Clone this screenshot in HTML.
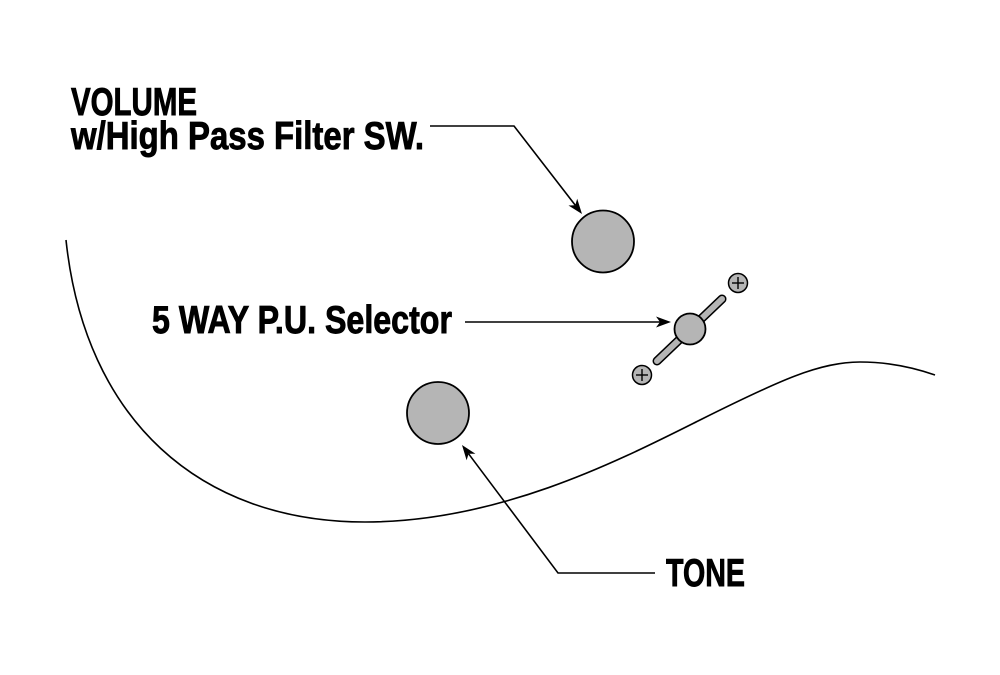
<!DOCTYPE html>
<html>
<head>
<meta charset="utf-8">
<style>
  html, body { margin: 0; padding: 0; background: #ffffff; }
  svg { display: block; }
  .lbl { font-family: "Liberation Sans Narrow", "Liberation Sans", sans-serif; font-weight: bold; font-size: 39px; fill: #000; stroke: #000; stroke-width: 0.9px; }
</style>
</head>
<body>
<svg width="1000" height="675" viewBox="0 0 1000 675" xmlns="http://www.w3.org/2000/svg">
  <rect x="0" y="0" width="1000" height="675" fill="#ffffff"/>

  <!-- body outline curve -->
  <path d="M66,240 C85,420 200,522 365,522 C500,522 620,460 700,420 C780,380 820,362 860,362 C890,362 915,368 935,375"
        fill="none" stroke="#000" stroke-width="1.6"/>

  <!-- labels -->
  <text class="lbl" x="71" y="115" textLength="126" lengthAdjust="spacingAndGlyphs">VOLUME</text>
  <text class="lbl" x="71" y="149" textLength="353" lengthAdjust="spacingAndGlyphs">w/High Pass Filter SW.</text>
  <text class="lbl" x="152" y="333" textLength="300" lengthAdjust="spacingAndGlyphs">5 WAY P.U. Selector</text>
  <text class="lbl" x="666" y="586" textLength="79" lengthAdjust="spacingAndGlyphs">TONE</text>

  <!-- volume leader -->
  <polyline points="430,126 514,126 575.3,205.3" fill="none" stroke="#000" stroke-width="1.6"/>
  <polygon points="582,214 568.5,205.5 575.3,205.3 577.2,198.8" fill="#000"/>

  <!-- volume knob -->
  <circle cx="603" cy="241.5" r="31" fill="#b5b5b5" stroke="#000" stroke-width="1.8"/>

  <!-- selector leader -->
  <line x1="465" y1="322" x2="660" y2="322" stroke="#000" stroke-width="1.6"/>
  <polygon points="671,322 656,327.5 660,322 656,316.5" fill="#000"/>

  <!-- selector slot -->
  <line x1="657" y1="361" x2="722" y2="299" stroke="#000" stroke-width="9" stroke-linecap="round"/>
  <line x1="657" y1="361" x2="722" y2="299" stroke="#b5b5b5" stroke-width="6" stroke-linecap="round"/>
  <circle cx="690" cy="329" r="15.5" fill="#b5b5b5" stroke="#000" stroke-width="1.8"/>

  <!-- screws -->
  <circle cx="738" cy="283" r="9.5" fill="#b5b5b5" stroke="#000" stroke-width="1.5"/>
  <line x1="732" y1="283" x2="744" y2="283" stroke="#000" stroke-width="1.4"/>
  <line x1="738" y1="277" x2="738" y2="289" stroke="#000" stroke-width="1.4"/>

  <circle cx="642" cy="375" r="9.5" fill="#b5b5b5" stroke="#000" stroke-width="1.5"/>
  <line x1="636" y1="375" x2="648" y2="375" stroke="#000" stroke-width="1.4"/>
  <line x1="642" y1="369" x2="642" y2="381" stroke="#000" stroke-width="1.4"/>

  <!-- tone knob -->
  <circle cx="438" cy="413" r="31" fill="#b5b5b5" stroke="#000" stroke-width="1.8"/>

  <!-- tone leader -->
  <polyline points="655,573 558,573 468.6,453.8" fill="none" stroke="#000" stroke-width="1.6"/>
  <polygon points="462,445 475.4,453.7 468.6,453.8 466.6,460.3" fill="#000"/>
</svg>
</body>
</html>
